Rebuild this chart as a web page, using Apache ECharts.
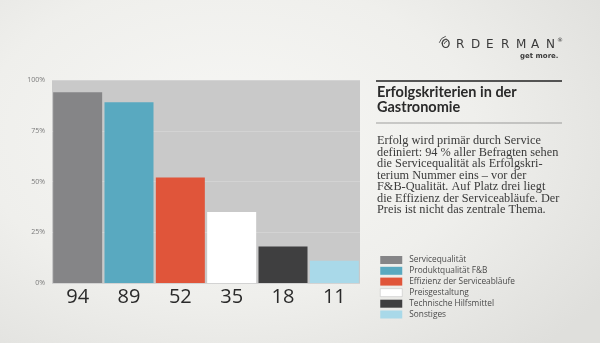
<!DOCTYPE html>
<html>
<head>
<meta charset="utf-8">
<script src="https://cdn.jsdelivr.net/npm/echarts@6/dist/echarts.min.js"></script>
<style>
  html, body { margin: 0; padding: 0; }
  #chart {
    width: 600px; height: 343px;
    background: radial-gradient(ellipse 75% 85% at 38% 40%, #f7f7f5 0%, #efefec 55%, #dfdfdc 100%);
  }
</style>
</head>
<body>
<div id="chart"></div>
<script>
// Survey: success criteria in gastronomy (share of respondents, %)
const criteria = [
  'Servicequalität',
  'Produktqualität F&B',
  'Effizienz der Serviceabläufe',
  'Preisgestaltung',
  'Technische Hilfsmittel',
  'Sonstiges'
];
const values = [94, 89, 52, 35, 18, 11];
const colors = ['#858587', '#59a9c0', '#e0553a', '#ffffff', '#3f3f40', '#a9d9e9'];
const yTicks = [0, 25, 50, 75, 100];

const titleLines = ['Erfolgskriterien in der', 'Gastronomie'];
const bodyLines = [
  'Erfolg wird primär durch Service',
  'definiert: 94 % aller Befragten sehen',
  'die Servicequalität als Erfolgskri-',
  'terium Nummer eins – vor der',
  'F&B-Qualität. Auf Platz drei liegt',
  'die Effizienz der Serviceabläufe. Der',
  'Preis ist nicht das zentrale Thema.'
];

const chart = echarts.init(document.getElementById('chart'), null, { renderer: 'canvas' });

// one stacked series per criterion so each bar gets its own legend entry
const series = criteria.map((name, i) => ({
  name: name,
  type: 'bar',
  stack: 'all',
  barWidth: 49,
  itemStyle: { color: colors[i] },
  emphasis: { disabled: true },
  data: criteria.map((c, j) => (j === i ? values[i] : '-'))
}));

const graphic = [];
// logo
const logoLetters = 'ORDERMAN'.split('');
logoLetters.forEach((ch, k) => {
  graphic.push({
    type: 'text', left: 441 + k * 15, top: 39,
    style: { text: ch, font: '12px "DejaVu Sans"', fill: '#3a3a3a' }
  });
});
graphic.push({ type: 'text', left: 557, top: 37, style: { text: '®', font: '6px "DejaVu Sans"', fill: '#3a3a3a' } });
graphic.push({ type: 'text', left: 520, top: 53, style: { text: 'get more.', font: 'bold 7px "DejaVu Sans"', fill: '#3a3a3a' } });
[4, 6.5, 9].forEach(r => {
  graphic.push({
    type: 'arc',
    shape: { cx: 448, cy: 45, r: r, startAngle: Math.PI * 1.08, endAngle: Math.PI * 1.42 },
    style: { stroke: '#555', lineWidth: 1, fill: null }
  });
});

// side panel rules
graphic.push({ type: 'line', shape: { x1: 376, y1: 81, x2: 562, y2: 81 }, style: { stroke: '#222', lineWidth: 1.5 } });
graphic.push({ type: 'line', shape: { x1: 376, y1: 123, x2: 562, y2: 123 }, style: { stroke: '#666', lineWidth: 0.6 } });

titleLines.forEach((t, k) => {
  graphic.push({
    type: 'text', left: 377, top: 85 + k * 15,
    style: { text: t, font: 'bold 14.5px Lato', fill: '#2a2a2a' }
  });
});
bodyLines.forEach((t, k) => {
  graphic.push({
    type: 'text', left: 377, top: 135 + k * 11.5,
    style: { text: t, font: '12.3px "Liberation Serif"', fill: '#3a3a3a' }
  });
});

chart.setOption({
  animation: false,
  backgroundColor: 'transparent',
  grid: {
    left: 52, right: 240, top: 80, bottom: 60,
    show: true, backgroundColor: '#c9c9c9', borderWidth: 0
  },
  legend: {
    orient: 'vertical',
    left: 380, top: 256, padding: 0,
    itemWidth: 22, itemHeight: 8, itemGap: 2.8,
    icon: 'rect',
    selectedMode: false,
    textStyle: { fontFamily: 'Open Sans', fontSize: 8.3, color: '#4a4a4a', padding: [0, 0, 0, 2] },
    data: criteria.map((c, i) => ({
      name: c,
      itemStyle: i === 3 ? { color: '#ffffff', borderColor: '#bbb', borderWidth: 0.5 } : undefined
    }))
  },
  xAxis: {
    type: 'category',
    data: criteria,
    axisLine: { show: false },
    axisTick: { show: false },
    axisLabel: {
      margin: 4,
      fontFamily: 'Open Sans', fontSize: 20, color: '#2a2a2a',
      formatter: (v, i) => String(values[i])
    }
  },
  yAxis: {
    type: 'value',
    min: yTicks[0], max: yTicks[yTicks.length - 1], interval: 25,
    axisLine: { show: false },
    axisTick: { show: false },
    splitLine: { lineStyle: { color: '#d3d3d3', width: 1 } },
    axisLabel: {
      margin: 7,
      fontFamily: 'Open Sans', fontSize: 7, color: '#7a7a7a',
      formatter: '{value}%'
    }
  },
  graphic: graphic,
  series: series
});
</script>
</body>
</html>
